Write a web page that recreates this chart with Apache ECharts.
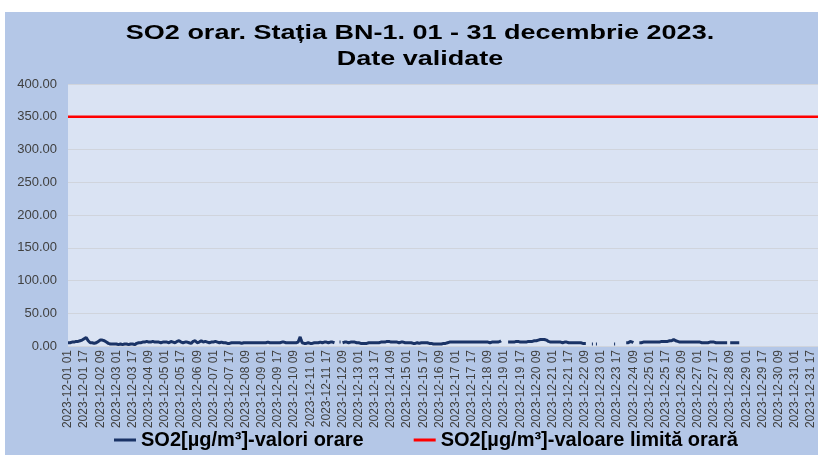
<!DOCTYPE html>
<html>
<head>
    <meta charset="UTF-8">
    <script src="https://cdn.jsdelivr.net/npm/echarts@6/dist/echarts.min.js"></script>
    <title>SO2 orar BN-1</title>
    <style>
        body { margin: 0; background: #fff; width: 818px; height: 455px; overflow: hidden; }
        #box { position: absolute; left: 5px; top: 12px; width: 813px; height: 443px; background: #b4c7e7; }
    </style>
</head>
<body>
    <div id="box"></div>
    <script>
        // valori orare SO2, cate un rand pe zi (ore 01..24), null = lipsa date
        var zile = [
            [5,5,5,6,6,6,6,7,7,7,7,8,8,8,9,10,11,12,13,11,8,6,5,5],
            [5,4,4,4,5,6,7,8,9,9,9,8,8,7,6,5,4,4,3,3,3,3,3,3],
            [3,3,2,3,3,3,2,2,3,3,3,2,2,3,3,3,3,2,2,3,4,4,5,5],
            [5,6,6,6,6,7,7,6,6,6,6,7,7,7,6,6,6,6,6,5,5,6,6,6],
            [6,6,6,5,5,6,7,7,6,5,5,6,7,8,8,7,6,5,5,5,6,7,6,5],
            [5,4,4,5,7,9,8,6,5,5,6,7,8,7,6,6,7,7,6,5,5,5,6,6],
            [6,6,7,7,6,6,5,5,6,6,5,5,5,5,4,4,4,4,5,5,5,5,5,5],
            [5,5,5,4,4,4,5,5,5,5,5,5,5,5,5,5,5,5,5,5,5,5,5,5],
            [5,5,5,5,5,6,6,6,5,5,5,5,5,5,5,5,5,5,5,5,6,6,6,5],
            [5,5,5,5,5,5,5,5,5,5,5,5,6,8,14,9,5,4,4,4,4,5,5,5],
            [4,4,4,5,5,5,5,5,5,5,6,6,5,5,6,6,6,5,5,5,6,6,6,5],
            [5,null,null,null,null,6,6,null,5,5,6,6,6,5,5,6,6,5,6,6,6,6,5,5],
            [5,5,4,4,4,4,4,4,4,4,5,5,5,5,5,5,5,5,5,5,5,5,6,6],
            [6,6,6,7,7,7,7,7,6,6,6,6,6,6,6,6,5,5,6,6,6,6,5,5],
            [5,5,5,5,5,4,4,4,4,5,5,4,4,4,5,5,5,5,5,5,5,4,4,4],
            [4,3,3,3,3,3,3,3,3,3,3,4,4,4,4,5,5,5,6,6,6,6,6,6],
            [6,6,6,6,6,6,6,5,6,6,6,6,6,6,6,6,6,5,6,6,6,5,6,6],
            [6,6,6,6,6,7,6,6,6,5,5,6,6,6,6,6,6,6,6,6,7,8,null,null],
            [null,null,null,null,6,6,6,6,6,6,6,6,7,7,7,6,6,6,6,6,6,6,6,7],
            [7,7,7,7,7,7,8,8,8,9,9,10,10,11,10,9,10,10,9,8,7,7,6,6],
            [6,6,6,6,6,6,6,6,6,5,5,5,6,6,6,6,5,5,5,5,5,5,5,5],
            [5,5,5,5,5,4,4,4,4,4,null,null,null,null,null,3,3,null,null,3,3,null,null,null],
            [null,null,null,null,null,null,null,null,null,null,null,null,null,3,3,null,null,null,null,null,null,null,null,null],
            [null,5,5,5,6,7,7,6,5,null,null,null,null,null,5,5,5,6,6,6,6,6,6,6],
            [6,6,6,6,6,6,6,6,6,6,6,6,7,7,7,7,7,7,7,7,8,8,8,9],
            [10,9,8,7,7,7,6,6,6,6,6,6,6,6,6,6,6,6,6,6,6,6,6,6],
            [6,6,6,6,5,5,5,5,5,5,5,5,6,6,6,6,6,5,5,5,5,5,5,5],
            [5,5,5,5,5,5,null,null,5,5,5,5,5,5,5,5,5,5,null,null,null,null,null,null],
            [null,null,null,null,null,null,null,null,null,null,null,null,null,null,null,null,null,null,null,null,null,null,null,null],
            [null,null,null,null,null,null,null,null,null,null,null,null,null,null,null,null,null,null,null,null,null,null,null,null],
            [null,null,null,null,null,null,null,null,null,null,null,null,null,null,null,null,null,null,null,null,null,null,null,null]
        ];
        var valoareLimita = 350;
        var yTicks = [0, 50, 100, 150, 200, 250, 300, 350, 400];
        var titlu = ['SO2 orar. Stația BN-1. 01 - 31 decembrie 2023.', 'Date validate'];

        var ore = [];
        var valori = [];
        var limita = [];
        for (var d = 0; d < zile.length; d++) {
            for (var h = 0; h < 24; h++) {
                var dd = String(d + 1).padStart(2, '0');
                var hh = String(h + 1).padStart(2, '0');
                ore.push('2023-12-' + dd + ' ' + hh);
                valori.push(zile[d][h]);
                limita.push(valoareLimita);
            }
        }

        var mychart = echarts.init(document.getElementById('box'));

        // titlul e latit pe orizontala in original -> scaleX
        var titluGraphic = titlu.map(function (t, i) {
            return {
                type: 'text',
                x: 415,
                y: 21.5 + i * 26,
                scaleX: 1.35,
                style: {
                    text: t,
                    x: 0,
                    y: 0,
                    align: 'center',
                    verticalAlign: 'middle',
                    font: 'bold 20px "Liberation Sans"',
                    fill: '#000'
                }
            };
        });

        var option = {
            animation: false,
            graphic: titluGraphic,
            legend: {
                bottom: 0,
                left: 104,
                itemGap: 50,
                icon: 'rect',
                itemWidth: 22,
                itemHeight: 3,
                textStyle: {
                    fontFamily: 'Liberation Sans',
                    fontSize: 20,
                    fontWeight: 'bold',
                    color: '#000'
                },
                data: ['SO2[µg/m³]-valori orare', 'SO2[µg/m³]-valoare limită orară']
            },
            grid: {
                left: 63,
                right: 0,
                top: 72,
                bottom: 109,
                show: true,
                backgroundColor: '#dae3f3',
                borderWidth: 0
            },
            xAxis: {
                type: 'category',
                boundaryGap: false,
                data: ore,
                axisLine: { show: false },
                axisTick: { show: false },
                axisLabel: {
                    interval: 15,
                    rotate: 90,
                    margin: 4,
                    fontFamily: 'Liberation Sans',
                    fontSize: 12,
                    color: '#404040'
                }
            },
            yAxis: {
                type: 'value',
                min: yTicks[0],
                max: yTicks[yTicks.length - 1],
                interval: 50,
                axisLine: { show: false },
                axisTick: { show: false },
                splitLine: { lineStyle: { color: '#d0d4dc', width: 1 } },
                axisLabel: {
                    margin: 11,
                    fontFamily: 'Liberation Sans',
                    fontSize: 13,
                    color: '#404040',
                    formatter: function (v) { return v.toFixed(2); }
                }
            },
            series: [
                {
                    name: 'SO2[µg/m³]-valori orare',
                    type: 'line',
                    data: valori,
                    showSymbol: false,
                    connectNulls: false,
                    lineStyle: { color: '#1a3366', width: 3 },
                    itemStyle: { color: '#1a3366' }
                },
                {
                    name: 'SO2[µg/m³]-valoare limită orară',
                    type: 'line',
                    data: limita,
                    showSymbol: false,
                    lineStyle: { color: '#ff0000', width: 2.5 },
                    itemStyle: { color: '#ff0000' }
                }
            ]
        };
        mychart.setOption(option);
    </script>
</body>
</html>
